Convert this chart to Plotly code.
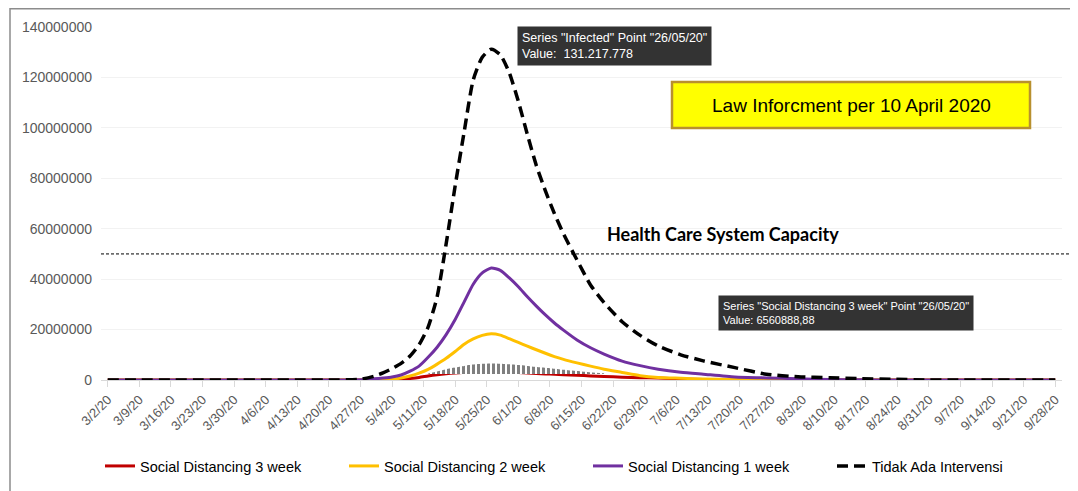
import plotly.graph_objects as go

# ---------------- data ----------------
dates = [
    "2020-03-02", "2020-03-09", "2020-03-16", "2020-03-23", "2020-03-30", "2020-04-06",
    "2020-04-13", "2020-04-20", "2020-04-27", "2020-04-30",
    "2020-05-02", "2020-05-04", "2020-05-06", "2020-05-08", "2020-05-10", "2020-05-12",
    "2020-05-14", "2020-05-16", "2020-05-18", "2020-05-20", "2020-05-22", "2020-05-24",
    "2020-05-26", "2020-05-28", "2020-05-30", "2020-06-01", "2020-06-03", "2020-06-05",
    "2020-06-07", "2020-06-09", "2020-06-11",
    "2020-06-14", "2020-06-17", "2020-06-20",
    "2020-06-24", "2020-06-28", "2020-07-02",
    "2020-07-07", "2020-07-12",
    "2020-07-19", "2020-07-26", "2020-08-02", "2020-08-09", "2020-08-16", "2020-08-23",
    "2020-08-30", "2020-09-06", "2020-09-13", "2020-09-20", "2020-09-28",
]

sd3_week = [
    0, 0, 0, 0, 0, 0, 0, 0, 0, 0,
    0, 100000, 300000, 600000, 1000000, 1600000,
    2100000, 2500000, 2800000, 3000000, 3200000, 3400000,
    3500000, 3400000, 3200000, 3000000, 2800000, 2600000,
    2400000, 2300000, 2100000,
    1900000, 1600000, 1400000,
    1100000, 900000, 800000,
    400000, 150000,
    0, 0, 0, 0, 0, 0, 0, 0, 0, 0, 0,
]

sd2_week = [
    0, 0, 0, 0, 0, 0, 0, 0, 0, 0,
    100000, 300000, 800000, 1600000, 2700000, 4200000,
    6300000, 8600000, 11300000, 14200000, 16300000, 17700000,
    18300000, 17800000, 16400000, 14900000, 13400000, 12000000,
    10600000, 9300000, 8200000,
    6800000, 5500000, 4300000,
    3000000, 1700000, 1000000,
    700000, 400000,
    200000, 50000, 0, 0, 0, 0, 0, 0, 0, 0, 0,
]

sd1_week = [
    0, 0, 0, 0, 0, 0, 0, 0, 100000, 500000,
    800000, 1200000, 2000000, 3500000, 5500000, 9000000,
    13000000, 18000000, 24000000, 31000000, 38000000, 42500000,
    44400000, 43500000, 40500000, 37000000, 33000000, 29300000,
    25800000, 22600000, 19800000,
    15900000, 12800000, 10300000,
    7500000, 5700000, 4300000,
    3100000, 2300000,
    1200000, 800000, 500000, 200000, 50000, 0, 0, 0, 0, 0, 0,
]

no_intervention = [
    0, 0, 0, 0, 0, 0, 0, 0, 300000, 1500000,
    2800000, 4500000, 6600000, 9500000, 14000000, 21000000,
    33000000, 54000000, 77000000, 98500000, 119000000, 128000000,
    131217778, 129000000, 121800000, 110500000, 97400000, 85000000,
    75000000, 66000000, 58000000,
    47600000, 37700000, 30700000,
    23100000, 17700000, 13500000,
    10000000, 7600000,
    4900000, 2300000, 1300000, 900000, 500000, 300000, 0, 0, 0, 0, 0,
]

# hover highlight of "Social Distancing 3 week" around 26/05/20
hatch_dates = [
    "2020-05-12", "2020-05-14", "2020-05-16", "2020-05-18", "2020-05-20", "2020-05-22",
    "2020-05-24", "2020-05-26", "2020-05-28", "2020-05-30", "2020-06-01", "2020-06-03",
    "2020-06-05", "2020-06-07", "2020-06-09", "2020-06-11", "2020-06-14", "2020-06-17",
    "2020-06-20",
]
hatch_top = [
    2600000, 3400000, 4300000, 5000000, 5600000, 6100000,
    6400000, 6560888.88, 6450000, 6200000, 5900000, 5600000,
    5200000, 4900000, 4500000, 4100000, 3600000, 3100000,
    2700000,
]
hatch_base = [2400000] * len(hatch_dates)

capacity = 50000000

tick_dates = [
    "2020-03-02", "2020-03-09", "2020-03-16", "2020-03-23", "2020-03-30", "2020-04-06",
    "2020-04-13", "2020-04-20", "2020-04-27", "2020-05-04", "2020-05-11", "2020-05-18",
    "2020-05-25", "2020-06-01", "2020-06-08", "2020-06-15", "2020-06-22", "2020-06-29",
    "2020-07-06", "2020-07-13", "2020-07-20", "2020-07-27", "2020-08-03", "2020-08-10",
    "2020-08-17", "2020-08-24", "2020-08-31", "2020-09-07", "2020-09-14", "2020-09-21",
    "2020-09-28",
]
tick_labels = [
    "3/2/20", "3/9/20", "3/16/20", "3/23/20", "3/30/20", "4/6/20", "4/13/20", "4/20/20",
    "4/27/20", "5/4/20", "5/11/20", "5/18/20", "5/25/20", "6/1/20", "6/8/20", "6/15/20",
    "6/22/20", "6/29/20", "7/6/20", "7/13/20", "7/20/20", "7/27/20", "8/3/20", "8/10/20",
    "8/17/20", "8/24/20", "8/31/20", "9/7/20", "9/14/20", "9/21/20", "9/28/20",
]
y_ticks = [0, 20000000, 40000000, 60000000, 80000000, 100000000, 120000000, 140000000]

# ---------------- figure ----------------
OFF = 8                      # page body margin
W, H = 1078 - OFF, 491 - OFF
ML, MR, MT, MB = 93, 16, 19, 111
PW, PH = W - ML - MR, H - MT - MB


def px(x):
    """page pixel x -> paper coordinate"""
    return (x - OFF - ML) / PW


def py(y):
    """page pixel y -> paper coordinate"""
    return (H - MB - (y - OFF)) / PH


ARIAL = "Liberation Sans, Arial, sans-serif"

fig = go.Figure()

fig.add_trace(go.Scatter(
    x=dates, y=sd3_week, mode="lines", name="Social Distancing 3 week",
    line=dict(color="#C00000", width=3, shape="spline", smoothing=0.6),
))
fig.add_trace(go.Scatter(
    x=hatch_dates, y=hatch_base, mode="lines", showlegend=False, hoverinfo="skip",
    line=dict(width=0, color="rgba(0,0,0,0)"),
))
fig.add_trace(go.Scatter(
    x=hatch_dates, y=hatch_top, mode="lines", showlegend=False, hoverinfo="skip",
    line=dict(width=0, color="rgba(0,0,0,0)", shape="spline", smoothing=0.6),
    fill="tonexty", fillcolor="white",
    fillpattern=dict(shape="|", fgcolor="#000000", bgcolor="white", size=5, solidity=0.6),
))
fig.add_trace(go.Scatter(
    x=dates, y=sd2_week, mode="lines", name="Social Distancing 2 week",
    line=dict(color="#FFC000", width=3, shape="spline", smoothing=0.6),
))
fig.add_trace(go.Scatter(
    x=dates, y=sd1_week, mode="lines", name="Social Distancing 1 week",
    line=dict(color="#7030A0", width=3, shape="spline", smoothing=0.6),
))
fig.add_trace(go.Scatter(
    x=dates, y=no_intervention, mode="lines", name="Tidak Ada Intervensi",
    line=dict(color="black", width=3.5, dash="11px,6px", shape="spline", smoothing=0.6),
))

shapes = [
    # outer frame
    dict(type="rect", xref="paper", yref="paper", x0=px(10), x1=px(1095), y0=py(510), y1=py(8.8),
         line=dict(color="#8c8c8c", width=1.5), fillcolor="rgba(0,0,0,0)", layer="below"),
    # health care capacity line
    dict(type="line", xref="paper", yref="y", x0=px(101), x1=px(1078), y0=capacity, y1=capacity,
         line=dict(color="black", width=1, dash="3px,2px")),
    # yellow box
    dict(type="rect", xref="paper", yref="paper", x0=px(672), x1=px(1030), y0=py(128), y1=py(82),
         line=dict(color="#B8902E", width=2.5), fillcolor="#FFFF00"),
]

annotations = [
    dict(xref="paper", yref="paper", x=px(517), y=py(26), xanchor="left", yanchor="top",
         text='Series "Infected" Point "26/05/20"<br>Value:\u00a0 131.217.778',
         showarrow=False, align="left", bgcolor="#333333", borderpad=4,
         font=dict(family=ARIAL, size=12.5, color="white")),
    dict(xref="paper", yref="paper", x=px(718), y=py(295), xanchor="left", yanchor="top",
         text='Series "Social Distancing 3 week" Point "26/05/20"<br>Value: 6560888,88',
         showarrow=False, align="left", bgcolor="#333333", borderpad=4,
         font=dict(family=ARIAL, size=11, color="white")),
    dict(xref="paper", yref="paper", x=px(851), y=py(105), xanchor="center", yanchor="middle",
         text="Law Inforcment per 10 April 2020", showarrow=False,
         font=dict(family=ARIAL, size=19, color="black")),
    dict(xref="paper", yref="paper", x=px(723), y=py(234), xanchor="center", yanchor="middle",
         text="<b>Health Care System Capacity</b>", showarrow=False,
         font=dict(family="Lato, Open Sans, sans-serif", size=18, color="black")),
]

fig.update_layout(
    width=W, height=H,
    margin=dict(l=ML, r=MR, t=MT, b=MB, autoexpand=False),
    paper_bgcolor="white", plot_bgcolor="white",
    shapes=shapes, annotations=annotations,
    font=dict(family=ARIAL, color="#595959"),
    legend=dict(
        orientation="h", x=px(100), y=py(466), xanchor="left", yanchor="middle",
        font=dict(family=ARIAL, size=14.5, color="black"),
        entrywidth=199, entrywidthmode="pixels", bgcolor="rgba(0,0,0,0)",
        traceorder="normal", itemclick=False,
    ),
    xaxis=dict(
        type="date", range=["2020-02-29 12:00", "2020-09-29 12:00"],
        tickvals=tick_dates, ticktext=tick_labels, tickangle=-45,
        tickfont=dict(size=13, color="#595959", family=ARIAL),
        showgrid=False, zeroline=False, showline=True, linecolor="#d9d9d9", linewidth=1,
        ticks="outside", ticklen=6, tickcolor="#d9d9d9", automargin=False,
    ),
    yaxis=dict(
        range=[0, 140000000], tickvals=y_ticks, ticktext=[str(v) for v in y_ticks],
        tickfont=dict(size=14, color="#595959", family=ARIAL),
        showgrid=True, gridcolor="#f2f2f2", zeroline=False, showline=False,
        ticks="", ticklabelstandoff=8, automargin=False,
    ),
)

fig.write_html("out.html")
